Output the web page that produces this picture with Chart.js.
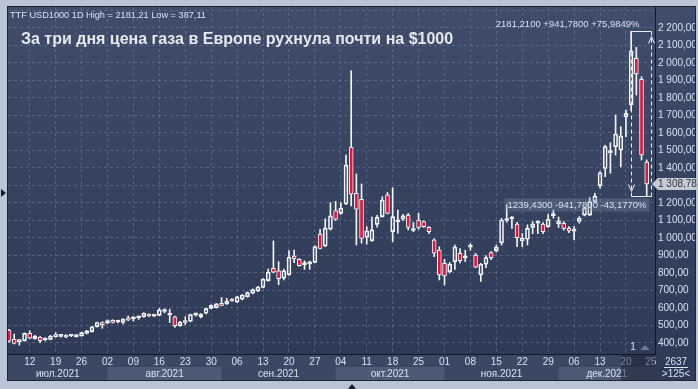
<!DOCTYPE html>
<html>
<head>
<meta charset="utf-8">
<script src="https://cdn.jsdelivr.net/npm/chart.js@4/dist/chart.umd.min.js"></script>
<style>
html,body{margin:0;padding:0;background:#b9c5d5;}
#wrap{width:698px;height:389px;}
</style>
</head>
<body>
<div id="wrap"><canvas id="gas" width="698" height="389"></canvas></div>
<script>
// TTF, дневные свечи: индекс 1 = 06.07.2021 ... 124 = 24.12.2021
const opens = [
  474, 421, 408, 413, 455, 425, 433, 417, 421, 436,
  438, 433, 440, 436, 440, 455, 465, 493, 517, 513,
  530, 520, 517, 543, 538, 544, 550, 564, 553, 558,
  580, 559, 550, 499, 517, 524, 559, 549, 570, 598,
  602, 627, 623, 651, 634, 650, 665, 684, 697, 718,
  756, 827, 813, 771, 790, 897, 878, 848, 852, 861,
  1023, 954, 1050, 1156, 1141, 1194, 1520, 1255, 1221, 1004,
  985, 1078, 1122, 1246, 1036, 1093, 1107, 1131, 1043, 1103,
  1094, 1061, 989, 931, 855, 808, 865, 913, 886, 947,
  903, 789, 850, 916, 926, 973, 1100, 1110, 1080, 985,
  993, 1061, 1085, 1080, 1065, 1128, 1080, 1084, 1055, 1039,
  1094, 1131, 1131, 1208, 1299, 1398, 1488, 1522, 1503, 1693,
  1760, 2027, 1907, 1434
];
const highs = [
  478, 451, 421, 458, 470, 444, 436, 430, 444, 459,
  446, 448, 448, 446, 462, 472, 495, 520, 522, 532,
  533, 530, 540, 554, 550, 554, 573, 567, 561, 597,
  595, 593, 553, 524, 550, 565, 572, 568, 600, 618,
  626, 659, 655, 654, 666, 677, 692, 709, 724, 768,
  823, 983, 865, 822, 928, 931, 882, 870, 868, 955,
  1050, 1110, 1202, 1210, 1202, 1474, 1956, 1366, 1309, 1065,
  1120, 1130, 1236, 1260, 1287, 1160, 1135, 1141, 1088, 1141,
  1098, 1065, 995, 950, 878, 860, 960, 940, 930, 968,
  912, 855, 900, 922, 960, 1112, 1189, 1122, 1090, 1025,
  1075, 1094, 1098, 1088, 1135, 1160, 1120, 1094, 1065, 1065,
  1122, 1178, 1230, 1255, 1380, 1530, 1545, 1703, 1636, 1731,
  2181.21, 2090, 1922, 1446
];
const lows = [
  405, 394, 387.11, 410, 424, 422, 402, 412, 418, 433,
  433, 430, 436, 433, 438, 452, 462, 490, 484, 510,
  514, 515, 509, 528, 525, 535, 547, 551, 550, 555,
  572, 517, 489, 495, 505, 520, 554, 543, 566, 595,
  599, 612, 620, 637, 630, 646, 661, 680, 693, 714,
  752, 800, 733, 760, 786, 859, 838, 821, 821, 857,
  937, 950, 1045, 1100, 1135, 1190, 1183, 960, 970, 964,
  980, 1062, 1118, 1138, 979, 1027, 1100, 1046, 1036, 1050,
  1060, 1025, 893, 760, 731, 800, 820, 858, 865, 930,
  830, 751, 830, 876, 920, 960, 1090, 1055, 950, 950,
  960, 1025, 1025, 1025, 1060, 1113, 1060, 1045, 1030, 989,
  1085, 1126, 1128, 1200, 1284, 1350, 1370, 1474, 1407, 1579,
  1727, 1817, 1446, 1239.43
];
const closes = [
  410, 398, 417, 455, 427, 440, 413, 425, 440, 448,
  443, 444, 445, 442, 459, 469, 492, 517, 503, 528,
  517, 525, 536, 531, 543, 549, 570, 554, 558, 589,
  585, 564, 499, 520, 528, 562, 564, 564, 596, 615,
  623, 615, 640, 640, 663, 673, 688, 705, 720, 764,
  804, 804, 768, 813, 890, 882, 842, 853, 857, 951,
  941, 1056, 1126, 1107, 1170, 1417, 1251, 1164, 998, 1040,
  1046, 1118, 1217, 1141, 1122, 1098, 1126, 1061, 1048, 1061,
  1065, 1036, 913, 789, 783, 851, 947, 871, 893, 952,
  833, 850, 888, 888, 947, 1103, 1105, 1115, 1002, 998,
  1055, 1080, 1090, 1036, 1107, 1133, 1097, 1055, 1040, 1044,
  1113, 1170, 1208, 1240, 1373, 1522, 1493, 1594, 1583, 1712,
  2069, 1937, 1474, 1308.78
];

// подписи оси X (понедельники) и месяцы
const tickIdx = [5, 10, 15, 20, 25, 30, 35, 40, 45, 50, 55, 60, 65, 70, 75, 80, 85, 90, 95, 100, 105, 110, 115, 120, 124.8];
const tickLabels = ['12', '19', '26', '02', '09', '16', '23', '30', '06', '13', '20', '27', '04', '11', '18', '25', '01', '08', '15', '22', '29', '06', '13', '20', '25'];
const months = ['июл.2021', 'авг.2021', 'сен.2021', 'окт.2021', 'ноя.2021', 'дек.2021'];
const monthStart = [0.8, 20, 42, 64, 85, 107];
const yTicks = [400, 500, 600, 700, 800, 900, 1000, 1100, 1200, 1300, 1400, 1500, 1600, 1700, 1800, 1900, 2000, 2100, 2200, 2300];

const measHigh = 2181.21, measLow = 1239.43, lastPrice = 1308.78;

const RED = '#e3173d';
const TXT = '#d6e1f0';
const FONT = 'Liberation Sans';

function fmt(v, dec) {
  let s = v.toFixed(dec).replace('.', ',');
  return s.replace(/^(\d)(\d{3}),/, '$1 $2,');
}

const lowerWick = opens.map((o, i) => ({x: i + 1, y: [lows[i], Math.min(o, closes[i])]}));
const upperWick = opens.map((o, i) => ({x: i + 1, y: [Math.max(o, closes[i]), highs[i]]}));
const bodies = opens.map((o, i) => ({x: i + 1, y: [o, closes[i]]}));

const frame = {
  id: 'frame',
  beforeDraw(chart) {
    const {ctx, chartArea: a} = chart;
    ctx.save();
    ctx.fillStyle = '#b9c5d5';
    ctx.fillRect(0, 0, 698, 389);
    ctx.fillStyle = '#1c2436';
    ctx.fillRect(7, 6, 689, 375);
    let g = ctx.createLinearGradient(0, a.top, 0, a.bottom);
    g.addColorStop(0, '#3f4d6a');
    g.addColorStop(1, '#2e3a56');
    ctx.fillStyle = g;
    ctx.fillRect(a.left, a.top, a.right - a.left, a.bottom - a.top);
    ctx.fillRect(a.right, a.top, 695 - a.right, a.bottom - a.top);
    // строка дат
    ctx.fillStyle = '#3b4863';
    ctx.fillRect(a.left, a.bottom, a.right - a.left, 26);
    const xs = chart.scales.x;
    for (let i = 0; i < months.length; i++) {
      const x0 = Math.max(a.left, xs.getPixelForValue(monthStart[i]));
      const x1 = i + 1 < months.length ? xs.getPixelForValue(monthStart[i + 1]) : a.right;
      ctx.fillStyle = i % 2 ? '#4c5a76' : '#3b4863';
      ctx.fillRect(x0, a.bottom + 13, x1 - x0, 13);
    }
    ctx.fillStyle = '#2f3b56';
    ctx.fillRect(a.right, a.bottom, 695 - a.right, 26);
    ctx.restore();
  },
  afterDatasetsDraw(chart) {
    const {ctx, scales: {x, y}} = chart;
    const xL = Math.round(x.getPixelForValue(121)) + 0.5;
    const xR = Math.round(x.getPixelForValue(124.8)) + 0.5;
    const yT = Math.round(y.getPixelForValue(measHigh)) + 0.5;
    const yB = Math.round(y.getPixelForValue(measLow)) + 0.5;
    ctx.save();
    ctx.strokeStyle = '#e9eef5';
    ctx.lineWidth = 1;
    ctx.beginPath();
    ctx.moveTo(xL, yT); ctx.lineTo(xR, yT);
    ctx.moveTo(xL, yB); ctx.lineTo(xR, yB);
    ctx.stroke();
    ctx.setLineDash([4, 3]);
    ctx.beginPath();
    ctx.moveTo(xL, yT); ctx.lineTo(xL, yB);
    ctx.moveTo(xR, yT); ctx.lineTo(xR, yB);
    ctx.stroke();
    ctx.setLineDash([]);
    ctx.beginPath();
    ctx.moveTo(xL - 3, yB - 12); ctx.lineTo(xL, yB - 5); ctx.lineTo(xL + 3, yB - 12);
    ctx.moveTo(xR - 3, yT + 12); ctx.lineTo(xR, yT + 5); ctx.lineTo(xR + 3, yT + 12);
    ctx.stroke();

    ctx.font = '9.5px ' + FONT;
    ctx.textBaseline = 'middle';
    ctx.textAlign = 'right';
    ctx.fillStyle = TXT;
    ctx.fillText('2181,2100 +941,7800 +75,9849%', xR - 12, 24);
    const t2 = '1239,4300 -941,7800 -43,1770%';
    const w2 = ctx.measureText(t2).width;
    ctx.fillStyle = 'rgba(120,135,160,0.35)';
    ctx.fillRect(xR - 8 - w2, yB + 2, w2 + 6, 13);
    ctx.fillStyle = TXT;
    ctx.fillText(t2, xR - 5, yB + 9);
    ctx.restore();
  },
  afterDraw(chart) {
    const {ctx, chartArea: a, scales: {x, y}} = chart;
    ctx.save();
    ctx.textBaseline = 'middle';
    ctx.fillStyle = '#d9e4f2';
    ctx.font = '9.2px ' + FONT;
    ctx.textAlign = 'left';
    ctx.fillText('TTF USD1000 1D High = 2181,21 Low = 387,11', 10, 15);
    ctx.fillStyle = '#e6e8ec';
    ctx.font = 'bold 16px ' + FONT;
    ctx.fillText('За три дня цена газа в Европе рухнула почти на $1000', 21, 40);

    // месяцы
    ctx.font = '10px ' + FONT;
    ctx.textAlign = 'center';
    ctx.fillStyle = TXT;
    for (let i = 0; i < months.length; i++) {
      const x0 = Math.max(a.left, x.getPixelForValue(monthStart[i]));
      const x1 = i + 1 < months.length ? x.getPixelForValue(monthStart[i + 1]) : a.right;
      ctx.fillText(months[i], (x0 + x1) / 2, a.bottom + 20);
    }
    // курсорная зона
    ctx.fillStyle = 'rgba(22,30,48,0.5)';
    ctx.fillRect(621, a.bottom + 1, a.right - 621, 25);
    ctx.fillStyle = TXT;
    ctx.fillText('1', 633, 347);
    ctx.fillStyle = '#6d7a93';
    ctx.beginPath();
    ctx.moveTo(640, 350); ctx.lineTo(645, 345); ctx.lineTo(650, 350);
    ctx.fill();

    // правый нижний угол
    ctx.fillStyle = TXT;
    ctx.fillText('2637', 676, a.bottom + 8);
    ctx.fillRect(664, a.bottom + 13, 24, 1);
    ctx.fillText('>125<', 676, a.bottom + 20);

    // метка последней цены
    const yp = Math.round(y.getPixelForValue(lastPrice));
    ctx.fillStyle = '#c6cbd2';
    ctx.beginPath();
    ctx.moveTo(652, yp);
    ctx.lineTo(658, yp - 6);
    ctx.lineTo(696, yp - 6);
    ctx.lineTo(696, yp + 6);
    ctx.lineTo(658, yp + 6);
    ctx.closePath();
    ctx.fill();
    ctx.fillStyle = '#2b3244';
    ctx.textAlign = 'left';
    ctx.fillText(fmt(lastPrice, 2), 658, yp);

    // маркеры рамки
    ctx.fillStyle = '#151b28';
    ctx.beginPath();
    ctx.moveTo(1, 189); ctx.lineTo(6, 193); ctx.lineTo(1, 197);
    ctx.fill();
    ctx.beginPath();
    ctx.moveTo(348, 389); ctx.lineTo(352, 384); ctx.lineTo(356, 389);
    ctx.fill();
    ctx.restore();
  }
};

new Chart(document.getElementById('gas'), {
  type: 'bar',
  data: {
    datasets: [
      {data: lowerWick, backgroundColor: '#f2f4f8', borderWidth: 0, barThickness: 1, grouped: false},
      {data: upperWick, backgroundColor: '#f2f4f8', borderWidth: 0, barThickness: 1, grouped: false},
      {
        data: bodies,
        backgroundColor: ctx => {
          const v = ctx.raw && ctx.raw.y;
          return v && v[1] < v[0] ? RED : 'rgba(0,0,0,0)';
        },
        borderColor: '#f2f4f8',
        borderWidth: 1,
        borderSkipped: false,
        barThickness: 4,
        minBarLength: 2,
        grouped: false
      }
    ]
  },
  options: {
    responsive: false,
    animation: false,
    devicePixelRatio: 1,
    layout: {padding: {left: 8, top: 7, right: 3, bottom: 9}},
    plugins: {legend: {display: false}, tooltip: {enabled: false}},
    scales: {
      x: {
        type: 'linear',
        offset: false,
        min: 0.807,
        max: 125.6,
        afterBuildTicks: s => { s.ticks = tickIdx.map(v => ({value: v})); },
        afterFit: s => { s.height = 26; s.paddingLeft = 0; s.paddingRight = 0; },
        ticks: {
          autoSkip: false,
          maxRotation: 0,
          padding: 2,
          color: TXT,
          font: {family: FONT, size: 10},
          callback: (v, i) => tickLabels[i]
        },
        grid: {
          offset: false,
          drawTicks: false,
          color: c => (c.tick && c.tick.value > 124) ? 'rgba(0,0,0,0)' : 'rgba(115,130,160,0.5)'
        },
        border: {display: true, color: '#121826', dash: [3, 3]}
      },
      y: {
        position: 'right',
        min: 337,
        max: 2320,
        afterBuildTicks: s => { s.ticks = yTicks.map(v => ({value: v})); },
        afterFit: s => { s.width = 40; s.paddingTop = 0; s.paddingBottom = 0; },
        ticks: {
          padding: 3,
          color: TXT,
          font: {family: FONT, size: 10},
          callback: v => v > 2250 ? '' : fmt(v, 2)
        },
        grid: {drawTicks: false, color: 'rgba(115,130,160,0.5)'},
        border: {display: true, color: '#121826', dash: [3, 3]}
      }
    }
  },
  plugins: [frame]
});
</script>
</body>
</html>
